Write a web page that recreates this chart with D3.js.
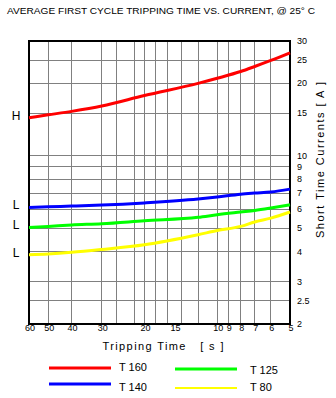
<!DOCTYPE html>
<html><head><meta charset="utf-8">
<script src="https://cdn.jsdelivr.net/npm/d3@7"></script>
<style>
html,body{margin:0;padding:0;background:#fff;}
svg{display:block;font-family:"Liberation Sans",Arial,sans-serif;}
text{white-space:pre;}
</style></head>
<body>
<script>
// ---- data ----
const times = [60, 50, 40, 30, 20, 12, 10, 8, 7, 6, 5];
const t160 = [14.4, 14.8, 15.3, 16.1, 17.8, 20.0, 21.0, 22.4, 23.5, 24.9, 26.8];
const t140 = [6.10, 6.14, 6.18, 6.24, 6.37, 6.61, 6.74, 6.93, 7.00, 7.07, 7.27];
const t125 = [5.04, 5.09, 5.16, 5.22, 5.37, 5.55, 5.69, 5.84, 5.93, 6.07, 6.26];
const t80  = [3.88, 3.91, 3.97, 4.08, 4.27, 4.70, 4.89, 5.09, 5.31, 5.51, 5.84];
const seriesNames = ["T 160", "T 140", "T 125", "T 80"];
const seriesColors = ["#ff0000", "#0000ff", "#00ff00", "#ffff00"];
const xTickLabels = [60, 50, 40, 30, 20, 15, 10, 9, 8, 7, 6, 5];
const xGrid = [50, 40, 30, 26, 22, 20, 18, 16, 14, 12, 10, 9, 8, 7, 6];
const yTickLabels = [30, 25, 20, 15, 10, 9, 8, 7, 6, 5, 4, 3, 2.5, 2];
const yGrid = [25, 20, 15, 10, 9, 8, 7, 6, 5, 4, 3, 2.5];
const sideLabels = [{t:"H", v:14.4}, {t:"L", v:6.1}, {t:"L", v:5.04}, {t:"L", v:3.88}];
const title = "AVERAGE FIRST CYCLE TRIPPING TIME VS. CURRENT, @ 25\u00b0 C";

const W = 336, H = 398;
const x = d3.scaleLog().domain([60, 5]).range([29, 290]);
const y = d3.scaleLog().domain([2, 30]).range([324, 41]);

const svg = d3.select("body").append("svg").attr("width", W).attr("height", H);

svg.append("text").attr("x", 7).attr("y", 14).attr("font-size", 9.5)
  .attr("textLength", 308).attr("lengthAdjust", "spacingAndGlyphs").text(title);

// grid
svg.append("g").selectAll("line").data(xGrid).join("line")
  .attr("x1", d => x(d)).attr("x2", d => x(d)).attr("y1", 41).attr("y2", 324)
  .attr("stroke", "#808080").attr("stroke-width", 1).attr("shape-rendering", "crispEdges");
svg.append("g").selectAll("line").data(yGrid).join("line")
  .attr("y1", d => y(d)).attr("y2", d => y(d)).attr("x1", 29).attr("x2", 290)
  .attr("stroke", "#808080").attr("stroke-width", 1).attr("shape-rendering", "crispEdges");

// frame
svg.append("rect").attr("x", 29).attr("y", 41).attr("width", 261).attr("height", 283)
  .attr("fill", "none").attr("stroke", "#000").attr("stroke-width", 1.2).attr("shape-rendering", "crispEdges");

// series
const allSeries = [t160, t140, t125, t80];
const line = d3.line().x(d => x(d[0])).y(d => y(d[1])).curve(d3.curveMonotoneX);
allSeries.forEach((s, i) => {
  svg.append("path").datum(times.map((t, j) => [t, s[j]]))
    .attr("d", line).attr("fill", "none").attr("stroke", seriesColors[i])
    .attr("stroke-width", 3);
});

// x tick labels
svg.append("g").selectAll("text").data(xTickLabels).join("text")
  .attr("x", d => x(d) + 1).attr("y", 331).attr("text-anchor", "middle")
  .attr("font-size", 9).text(d => d);

// y tick labels
svg.append("g").selectAll("text").data(yTickLabels).join("text")
  .attr("x", 297).attr("y", d => y(d) + 3).attr("font-size", 9).text(d => d);

// side labels
svg.append("g").selectAll("text").data(sideLabels).join("text")
  .attr("x", 16).attr("y", d => y(d.v) + 2).attr("text-anchor", "middle")
  .attr("font-size", 12).text(d => d.t);

// axis titles
svg.append("text").attr("x", 163).attr("y", 350).attr("text-anchor", "middle")
  .attr("font-size", 11).attr("textLength", 121).attr("lengthAdjust", "spacing")
  .text("Tripping Time   [ s ]");
svg.append("text").attr("transform", "translate(324,160) rotate(-90)")
  .attr("text-anchor", "middle").attr("font-size", 11)
  .attr("textLength", 156).attr("lengthAdjust", "spacing")
  .text("Short Time Currents [ A ]");

// legend
const legPos = [[49, 368], [49, 384], [175, 369], [175, 388]];
const textPos = [[119, 371], [119, 391], [250, 374], [250, 391]];
seriesNames.forEach((n, i) => {
  svg.append("line").attr("x1", legPos[i][0]).attr("x2", legPos[i][0] + 62)
    .attr("y1", legPos[i][1]).attr("y2", legPos[i][1])
    .attr("stroke", seriesColors[i]).attr("stroke-width", i === 3 ? 2 : 3);
  svg.append("text").attr("x", textPos[i][0]).attr("y", textPos[i][1])
    .attr("font-size", 11).text(n);
});
</script>
</body></html>
